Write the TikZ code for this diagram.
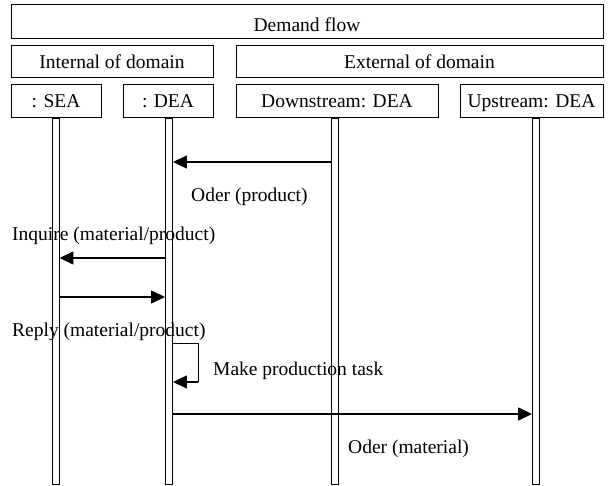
\documentclass[tikz,border=0pt]{standalone}
\usepackage{fontspec}
\setmainfont{Liberation Serif}
\usetikzlibrary{arrows.meta}
\begin{document}
\begin{tikzpicture}[x=1pt,y=-1pt,
  font=\fontsize{19.5}{23}\selectfont,
  box/.style={draw, line width=1pt, rectangle, inner sep=0pt, text height=14pt, text depth=0pt, text=black},
  life/.style={draw, line width=0.9pt, rectangle, inner sep=0pt, minimum width=7pt, minimum height=366pt},
  msg/.style={line width=1.4pt, -{Triangle[length=14pt,width=13pt]}},
  lbl/.style={anchor=west, inner sep=0pt, text height=13pt, text depth=0pt, text=black}]
\useasboundingbox (0,0) rectangle (610,486);

% header boxes
\node[box, text height=19pt, minimum width=592pt, minimum height=34pt] (demand) at (307,22) {Demand flow};
\node[box, minimum width=202pt, minimum height=32pt] (internal) at (112,62) {Internal of domain};
\node[box, minimum width=367pt, minimum height=32pt] (external) at (419.5,62) {External of domain};

% participant boxes
\node[box, minimum width=90pt, minimum height=33pt] (sea) at (56,101) {: SEA};
\node[box, minimum width=90pt, minimum height=33pt] (dea) at (168,101) {: DEA};
\node[box, minimum width=202pt, minimum height=33pt] (down) at (337,101) {Downstream: DEA};
\node[box, minimum width=143pt, minimum height=33pt] (up) at (531.5,101) {Upstream: DEA};

% lifelines
\node[life] (lsea) at (55.5,301) {};
\node[life] (ldea) at (169,301) {};
\node[life] (ldown) at (335,301) {};
\node[life] (lup) at (536,301) {};

% messages
\draw[msg] (ldown.west |- 0,162) -- (ldea.east |- 0,162);
\node[lbl] (m1) at (191,195) {Oder (product)};

\node[lbl] (m2) at (12,234) {Inquire (material/product)};
\draw[msg] (ldea.west |- 0,258) -- (lsea.east |- 0,258);

\draw[msg] (lsea.east |- 0,297) -- (ldea.west |- 0,297);
\node[lbl] (m3) at (12,330) {Reply (material/product)};

% self message on DEA
\coordinate (loopa) at (198,343);
\coordinate (loopb) at (198,382);
\draw[line width=1pt] (ldea.east |- loopa) -- (loopa) -- (loopb);
\draw[msg] (loopb) -- (ldea.east |- loopb);
\node[lbl] (m4) at (213,369) {Make production task};

\draw[msg] (ldea.east |- 0,414) -- (lup.west |- 0,414);
\node[lbl] (m5) at (348,447) {Oder (material)};
\end{tikzpicture}
\end{document}
